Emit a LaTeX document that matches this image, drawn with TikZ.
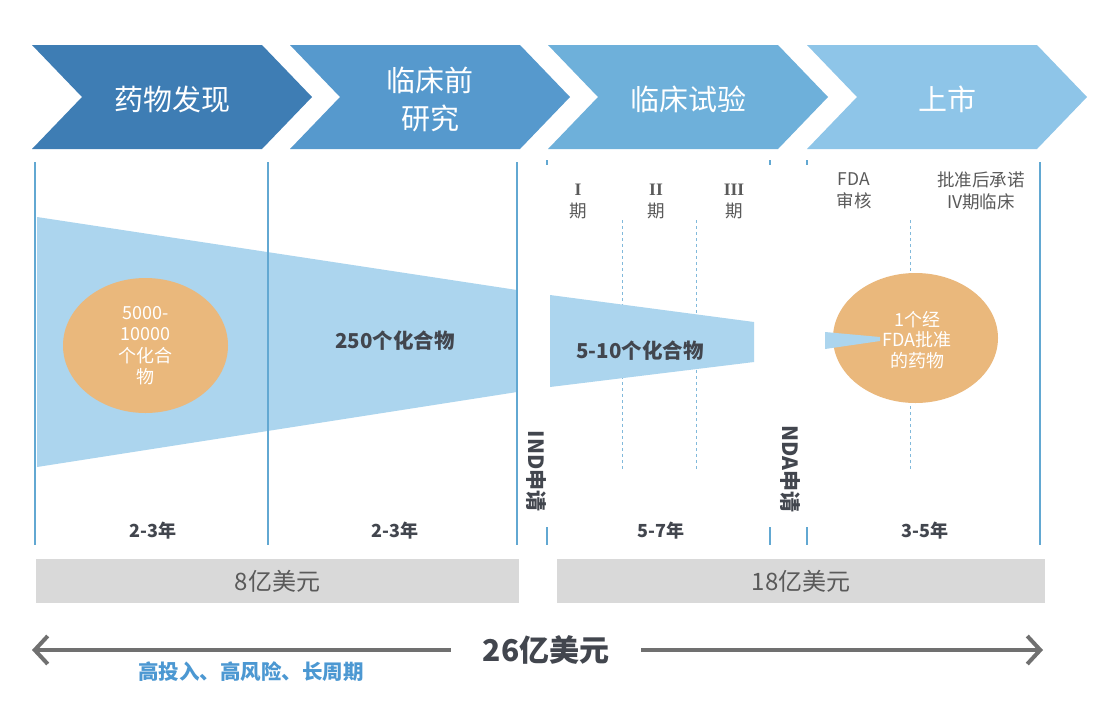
\documentclass[tikz,border=0pt]{standalone}
\usepackage{fontspec}
\setmainfont{Noto Sans CJK SC}
\newfontfamily\romannum{Liberation Serif}
\usetikzlibrary{arrows.meta,shapes.geometric}
\definecolor{stageA}{RGB}{62,125,180}
\definecolor{stageB}{RGB}{86,153,205}
\definecolor{stageC}{RGB}{110,176,218}
\definecolor{stageD}{RGB}{142,197,232}
\definecolor{funnelblue}{RGB}{172,213,238}
\definecolor{rulerblue}{RGB}{98,168,210}
\definecolor{pillorange}{RGB}{234,184,124}
\definecolor{costgray}{RGB}{217,217,217}
\definecolor{darktext}{RGB}{66,70,78}
\definecolor{softtext}{RGB}{90,90,90}
\definecolor{arrowgray}{RGB}{112,112,112}
\definecolor{riskblue}{RGB}{76,152,210}
\begin{document}
\begin{tikzpicture}[x=1pt, y=-1pt,
        stagetext/.style = {text=white, align=center, font=\fontsize{29}{38}\selectfont},
        ruler/.style = {rulerblue, line width=1.1pt},
        phase/.style = {rulerblue!80, line width=0.9pt, dashed},
        funnel/.style = {fill=funnelblue},
        pool/.style = {ellipse, fill=pillorange, text=white, align=center,
            font=\fontsize{18}{21.5}\selectfont, inner sep=0pt},
        count/.style = {text=darktext, font=\bfseries\fontsize{20.5}{24}\selectfont},
        years/.style = {text=darktext, font=\bfseries\fontsize{18}{20}\selectfont},
        step label/.style = {text=softtext, align=center, font=\fontsize{17.5}{22}\selectfont},
        filing/.style = {text=darktext, rotate=-90, font=\bfseries\fontsize{21}{24}\selectfont},
        cost/.style = {fill=costgray, text=softtext, font=\fontsize{24}{28}\selectfont,
            minimum height=44pt, inner sep=0pt}]

    % Page
    \fill[white] (0,0) rectangle (1112,716);
    \useasboundingbox (0,0) rectangle (1112,716);

    % Stage chevrons
    \foreach \x/\col/\name/\txt in {32/stageA/disc/药物发现, 290/stageB/pre/{临床前\\研究},
            548/stageC/clin/临床试验, 807/stageD/mkt/上市} {
        \fill[\col] (\x,45) -- ++(230,0) -- ++(50,52) -- ++(-50,52) -- ++(-230,0)
            -- ++(50,-52) -- cycle;
        \node[stagetext] (\name) at (\x+140,99) {\txt};
    }

    % Funnels
    \fill[funnel] (37,217) -- (517,290) -- (517,392) -- (37,467) -- cycle;

    % Phase dividers
    \foreach \x in {622,696,910}
        \draw[phase] (\x,220) -- (\x,470);
    \fill[funnel] (550,295) -- (754,322) -- (754,362) -- (550,387) -- cycle;

    % Time rulers
    \foreach \x in {35,268,517,1040}
        \draw[ruler] (\x,162) -- (\x,545);
    \foreach \x in {547,770,807} {
        \draw[ruler] (\x,160) -- (\x,165);
        \draw[ruler] (\x,527) -- (\x,545);
    }

    % Compound pools
    \node[pool, minimum width=165pt, minimum height=135pt] (start) at (145.5,345.5)
        {5000-\\10000\\个化合\\物};
    \node[pool, minimum width=165pt, minimum height=130pt] (drug) at (915.5,338) {};
    \fill[funnel] (825,332) -- (880,337) -- (880,341) -- (825,349) -- cycle;
    \node[text=white, align=center, font=\fontsize{18}{20.5}\selectfont] (approved)
        at (917,340) {1个经\\FDA批准\\的药物};
    \node[count] (preclin) at (395,341) {250个化合物};
    \node[count] (trial) at (640,351) {5-10个化合物};

    % Trial phases
    \node[step label] (p1) at (578,201) {{\romannum\bfseries I}\\期};
    \node[step label] (p2) at (656,201) {{\romannum\bfseries II}\\期};
    \node[step label] (p3) at (734,201) {{\romannum\bfseries III}\\期};
    \node[step label] (review) at (854,191) {FDA\\审核};
    \node[step label] (phase4) at (981,191) {批准后承诺\\IV期临床};

    % Filings
    \node[filing] (ind) at (536,471) {IND申请};
    \node[filing] (nda) at (790,469) {NDA申请};

    % Durations
    \node[years] (y1) at (153,531) {2-3年};
    \node[years] (y2) at (395,531) {2-3年};
    \node[years] (y3) at (661,531) {5-7年};
    \node[years] (y4) at (925,531) {3-5年};

    % Costs
    \node[cost, minimum width=483pt] (early) at (277.5,581) {8亿美元};
    \node[cost, minimum width=488pt] (late) at (801,581) {18亿美元};

    % Total
    \node[text=darktext, font=\bfseries\fontsize{30}{34}\selectfont, inner xsep=32pt]
        (total) at (546,650) {26亿美元};
    \coordinate (leftend) at (32,650);
    \coordinate (rightend) at (1043,650);
    \draw[arrowgray, line width=4pt, -{Straight Barb[length=13pt, width=28pt]}]
        (total) -- (leftend);
    \draw[arrowgray, line width=4pt, -{Straight Barb[length=13pt, width=28pt]}]
        (total) -- (rightend);
    \node[text=riskblue, font=\bfseries\fontsize{20.5}{24}\selectfont] (risk) at (251,672)
        {高投入、高风险、长周期};

\end{tikzpicture}
\end{document}
